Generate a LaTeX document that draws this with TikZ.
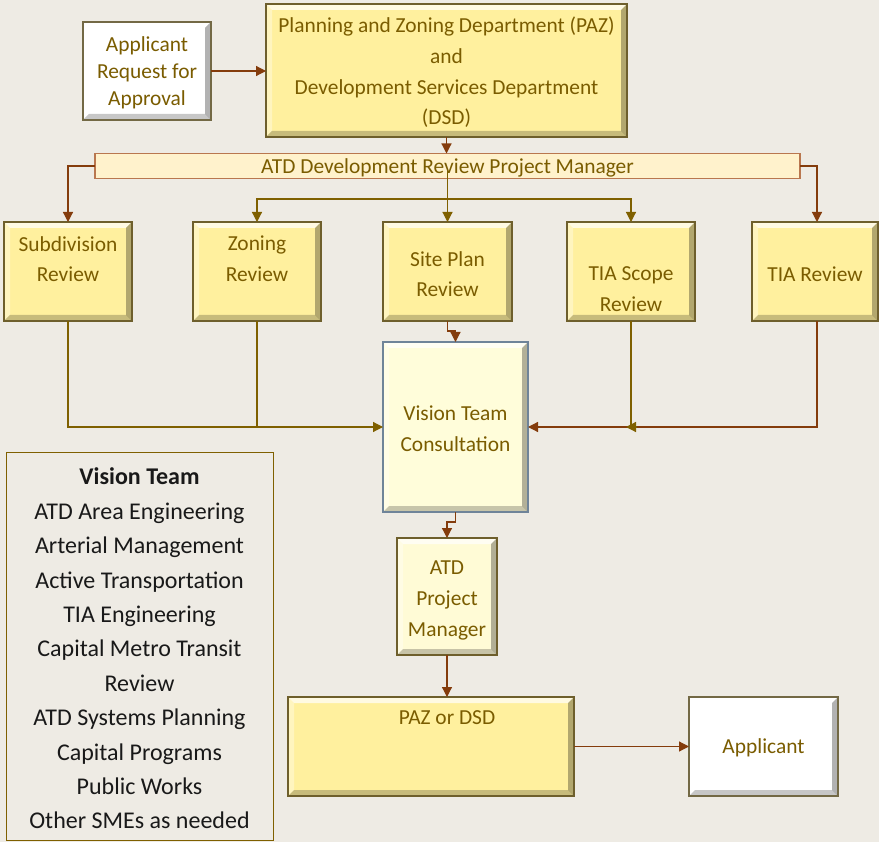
\documentclass[tikz,border=0pt]{standalone}
\usepackage{fontspec}
\setmainfont{Carlito}
\usetikzlibrary{arrows.meta,calc}
\definecolor{bg}{HTML}{EEEBE4}
\definecolor{ylw}{HTML}{FFF09E}
\definecolor{ylwlt}{HTML}{FFFBD6}
\definecolor{vislt}{HTML}{FFFDDA}
\definecolor{brd}{HTML}{6E5F2C}
\definecolor{txtc}{HTML}{7A5C00}
\definecolor{brn}{HTML}{843C0C}
\definecolor{olv}{HTML}{7F6000}
\definecolor{barfill}{HTML}{FFF2CC}
\definecolor{barbrd}{HTML}{B9774F}
\definecolor{visbrd}{HTML}{6F8499}
\begin{document}
\begin{tikzpicture}[x=1pt,y=-1pt,
  bevel/.style={path picture={
    \fill[white,opacity=0.7] (path picture bounding box.north west) -- (path picture bounding box.north east) -- ($(path picture bounding box.north east)+(-6,6)$) -- ($(path picture bounding box.north west)+(6,6)$) -- cycle;
    \fill[white,opacity=0.35] (path picture bounding box.north west) -- (path picture bounding box.south west) -- ($(path picture bounding box.south west)+(6,-6)$) -- ($(path picture bounding box.north west)+(6,6)$) -- cycle;
    \fill[black,opacity=0.22] (path picture bounding box.south west) -- (path picture bounding box.south east) -- ($(path picture bounding box.south east)+(-6,-6)$) -- ($(path picture bounding box.south west)+(6,-6)$) -- cycle;
    \fill[black,opacity=0.3] (path picture bounding box.north east) -- (path picture bounding box.south east) -- ($(path picture bounding box.south east)+(-6,-6)$) -- ($(path picture bounding box.north east)+(-6,6)$) -- cycle;
  }},
  box/.style={draw=brd,line width=1.3pt,fill=ylw,bevel,inner sep=0pt,outer sep=0pt,
    text=txtc,align=center,font=\fontsize{21.4}{30.6}\selectfont},
  wbox/.style={box,fill=white,draw=brd!70!gray},
  txt/.style={text=txtc,align=center,font=\fontsize{21.4}{30.6}\selectfont,inner sep=0pt},
  arr/.style={-{Triangle[length=10pt,width=10pt]},line width=1.2pt},
  ln/.style={line width=1.2pt}
]
\fill[bg] (0,0) rectangle (879,842);
\useasboundingbox (0,0) rectangle (879,842);

% top row
\node[wbox,minimum width=128,minimum height=98] (req) at (147,71) {};
\node[txt,font=\fontsize{21.4}{27.2}\selectfont] (reqt) at (147,72.5) {Applicant\\Request for\\Approval};
\node[box,minimum width=361,minimum height=133] (paz) at (446.5,70.5) {};
\node[txt] (pazt) at (446.5,72.5)
  {Planning and Zoning Department (PAZ)\\and\\Development Services Department\\(DSD)};
\node[draw=barbrd,line width=1.2pt,fill=barfill,minimum width=705,minimum height=25,inner sep=0pt,outer sep=0pt] (bar) at (447.5,166) {};
\node[txt,font=\fontsize{21.4}{25}\selectfont] (bart) at (447.5,167.5) {ATD Development Review Project Manager};

% review row
\node[box,minimum width=128,minimum height=99] (sub) at (68,271.5) {};
\node[txt] (subt) at (68,259) {Subdivision\\Review};
\node[box,minimum width=128,minimum height=99] (zon) at (257,271.5) {};
\node[txt] (zont) at (257,259) {Zoning\\Review};
\node[box,minimum width=129,minimum height=99] (site) at (447.5,271.5) {};
\node[txt] (sitet) at (447.5,274) {Site Plan\\Review};
\node[box,minimum width=128,minimum height=99] (tias) at (631,271.5) {};
\node[txt] (tiast) at (631,289) {TIA Scope\\Review};
\node[box,minimum width=126,minimum height=99] (tiar) at (815,271.5) {};
\node[txt] (tiart) at (815,274) {TIA Review};

% middle
\node[box,fill=vislt,draw=visbrd,minimum width=145,minimum height=170] (vis) at (455.5,427) {};
\node[txt] (vist) at (455.5,429) {Vision Team\\Consultation};
\node[box,fill=ylwlt,minimum width=100,minimum height=117] (pm) at (447,596.5) {};
\node[txt] (pmt) at (447,600.5) {ATD\\Project\\Manager};
\node[box,minimum width=286,minimum height=99] (pd) at (431,746.5) {};
\node[txt] (pdt) at (447,718) {PAZ or DSD};
\node[wbox,minimum width=149,minimum height=99] (app) at (763.5,746.5) {};
\node[txt] (appt) at (763.5,748) {Applicant};

% legend
\node[draw=olv,line width=1pt,minimum width=267,minimum height=387,inner sep=0pt] (leg) at (139.5,646.5) {};
\node[align=center,inner sep=0pt,font=\fontsize{24}{34.4}\selectfont,text=black!90] (legt) at (139.5,648.5)
  {{\bfseries Vision Team}\\ATD Area Engineering\\Arterial Management\\Active Transportation\\TIA Engineering\\Capital Metro Transit\\Review\\ATD Systems Planning\\Capital Programs\\Public Works\\Other SMEs as needed};

% connectors
\draw[brn,arr] (req.east) -- (req.east -| paz.west);
\draw[brn,arr] (paz.south) -- (paz.south |- bar.north);
\draw[brn,arr] (bar.west) -| (sub.north);
\draw[brn,arr] (bar.east) -| ([xshift=2pt]tiar.north);
\coordinate (j1) at (447.5,199);
\draw[olv,arr] (447.5,170) -- (site.north);
\draw[olv,arr] (j1) -| (zon.north);
\draw[olv,arr] (j1) -| (tias.north);
\draw[olv,arr] (sub.south) |- (vis.west);
\draw[olv,ln] (zon.south) -- (zon.south |- vis.west);
\draw[brn,arr] (site.south) -- ++(0,10) -| (vis.north);
\draw[brn,arr] ([xshift=2pt]tiar.south) |- (vis.east);
\coordinate (ts) at (tias.south |- vis.east);
\draw[olv,ln] (tias.south) -- (ts);
\draw[olv,arr] ($(ts)+(6,0)$) -- ($(ts)+(-5,0)$);
\draw[brn,arr] (vis.south) -- ++(0,10) -| (pm.north);
\draw[brn,arr] (pm.south) -- (pm.south |- pd.north);
\draw[brn,arr] (pd.east) -- (app.west);
\end{tikzpicture}
\end{document}
